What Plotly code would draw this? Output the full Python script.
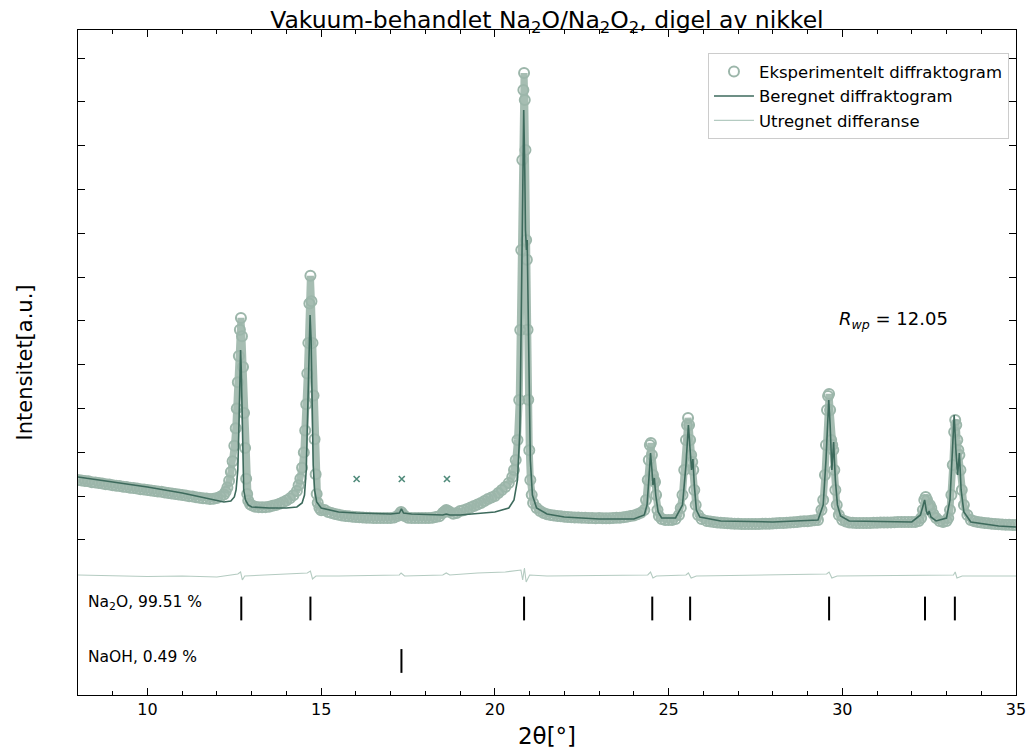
import plotly.graph_objects as go

# ---------------- data ----------------
exp_x = [8.0, 8.1, 8.2, 8.3, 8.4, 8.5, 8.6, 8.7, 8.8, 8.9, 9.0, 9.1, 9.2, 9.3, 9.4, 9.5, 9.6, 9.7, 9.8, 9.9,
         10.0, 10.1, 10.2, 10.3, 10.4, 10.5, 10.6, 10.7, 10.8, 10.9, 11.0, 11.1, 11.2, 11.3, 11.4, 11.5, 11.6,
         11.7, 11.8, 11.9, 12.0, 12.1, 12.2,
         12.25, 12.30, 12.35, 12.40, 12.45, 12.50, 12.54, 12.57, 12.60, 12.63, 12.66, 12.69, 12.72, 12.75,
         12.78, 12.81, 12.84, 12.87, 12.90, 12.95, 13.0,
         13.1, 13.2, 13.3, 13.4, 13.5, 13.6, 13.7, 13.8, 13.9, 14.0, 14.1, 14.2, 14.3,
         14.35, 14.40, 14.45, 14.50, 14.54, 14.57, 14.60, 14.63, 14.66, 14.69, 14.72, 14.75, 14.78, 14.81,
         14.84, 14.87, 14.90, 14.95, 15.0,
         15.1, 15.2, 15.3, 15.4, 15.5, 15.6, 15.7, 15.8, 15.9, 16.0, 16.1, 16.2, 16.3, 16.4, 16.5, 16.6, 16.7,
         16.8, 16.9, 17.0, 17.1, 17.2, 17.25, 17.3, 17.35, 17.4, 17.5, 17.6, 17.7, 17.8, 17.9, 18.0, 18.1,
         18.2, 18.3, 18.4, 18.5, 18.55, 18.6, 18.65, 18.7, 18.8, 18.9, 19.0, 19.1, 19.2, 19.3, 19.4, 19.5,
         19.6, 19.7, 19.8, 19.9, 20.0, 20.1, 20.2, 20.3, 20.4, 20.5, 20.55, 20.6, 20.65, 20.7, 20.73, 20.76,
         20.79, 20.82, 20.84, 20.86, 20.88, 20.90, 20.92, 20.94, 20.96, 20.99, 21.02, 21.06, 21.1, 21.2,
         21.3, 21.4, 21.5, 21.6, 21.7, 21.8, 21.9, 22.0, 22.1, 22.2, 22.3, 22.4, 22.5, 22.6, 22.7, 22.8,
         22.9, 23.0, 23.1, 23.2, 23.3, 23.4, 23.5, 23.6, 23.7, 23.8, 23.9, 24.0, 24.1, 24.2, 24.3, 24.35,
         24.40, 24.43, 24.46, 24.49, 24.52, 24.55, 24.58, 24.61, 24.64, 24.68, 24.72, 24.8, 24.9, 25.0,
         25.1, 25.2, 25.3, 25.35, 25.4, 25.45, 25.5, 25.53, 25.56, 25.59, 25.62, 25.65, 25.68, 25.71, 25.74,
         25.78, 25.85, 25.95, 26.1, 26.2, 26.3, 26.4, 26.5, 26.6, 26.7, 26.8, 26.9, 27.0, 27.1, 27.2, 27.3,
         27.4, 27.5, 27.6, 27.7, 27.8, 27.9, 28.0, 28.1, 28.2, 28.3, 28.4, 28.5, 28.6, 28.7, 28.8, 28.9,
         29.0, 29.1, 29.2, 29.3, 29.4, 29.45, 29.5, 29.53, 29.56, 29.59, 29.62, 29.65, 29.68, 29.71, 29.74,
         29.77, 29.8, 29.84, 29.9, 30.0, 30.1, 30.2, 30.3, 30.4, 30.5, 30.6, 30.7, 30.8, 30.9, 31.0, 31.1,
         31.2, 31.3, 31.4, 31.5, 31.6, 31.7, 31.8, 31.9, 32.0, 32.1, 32.2, 32.27, 32.32, 32.36, 32.40,
         32.44, 32.48, 32.52, 32.56, 32.62, 32.7, 32.8, 32.9, 33.0, 33.05, 33.1, 33.14, 33.18, 33.22, 33.25,
         33.28, 33.31, 33.34, 33.37, 33.4, 33.44, 33.5, 33.6, 33.7, 33.8, 33.9, 34.0, 34.1, 34.2, 34.3,
         34.4, 34.5, 34.6, 34.7, 34.8, 34.9, 35.0]
exp_y = [1370, 1360, 1345, 1340, 1320, 1310, 1300, 1290, 1270, 1265, 1250, 1240, 1230, 1215, 1210, 1195, 1185,
         1175, 1160, 1150, 1140, 1130, 1120, 1105, 1100, 1085, 1075, 1060, 1050, 1040, 1025, 1015, 1000, 990,
         975, 965, 955, 945, 935, 940, 960, 990, 1040,
         1100, 1200, 1350, 1550, 1800, 2150, 2550, 3000, 3600, 4200, 4800, 5070, 4650, 3950,
         2900, 2100, 1400, 1050, 900, 820, 790,
         760, 750, 745, 750, 760, 780, 800, 830, 860, 900, 950, 1020, 1120,
         1250, 1400, 1650, 2000, 2500, 3100, 3800, 4500, 5400, 6030, 5450, 4500, 3300, 2300,
         1500, 1050, 850, 730, 680,
         685, 640, 615, 594, 575, 560, 550, 540, 532, 525, 520, 515, 510, 505, 502, 500, 500,
         502, 500, 502, 515, 548, 590, 640, 590, 548, 510, 502, 500, 500, 502, 502, 502,
         505, 525, 540, 616, 650, 685, 660, 640, 600, 616, 662, 680, 708, 740, 776, 810,
         845, 890, 936, 970, 1005, 1073, 1142, 1210, 1301, 1438, 1598, 1826, 2283, 3196, 4794, 6620,
         8675, 10274, 10660, 10046, 8904, 6850, 6400, 4800, 3200, 2050, 1370, 1030, 845, 730,
         660, 616, 590, 571, 560, 548, 540, 530, 525, 520, 515, 512, 508, 505, 502, 500,
         498, 500, 498, 495, 497, 500, 505, 510, 520, 530, 545, 560, 590, 620, 685, 913,
         1370, 1826, 2170, 2214, 1940, 1484, 1370, 1324, 1027, 685, 548, 480, 457, 457,
         457, 480, 571, 730, 1027, 1598, 2283, 2625, 2785, 2625, 2283, 1940, 1780, 1598, 1140,
         800, 571, 480, 434, 420, 411, 400, 392, 388, 380, 375, 370, 368, 365, 365, 365,
         365, 365, 365, 368, 370, 372, 375, 380, 385, 390, 395, 400, 405, 410, 420, 425,
         430, 440, 450, 457, 685, 913, 1484, 2170, 2968, 3287, 3333, 2968, 2283, 2170, 2055,
         1598, 1142, 800, 571, 457, 420, 400, 392, 388, 385, 385, 388, 390, 392, 395, 398,
         400, 400, 402, 405, 408, 410, 411, 411, 411, 411, 434, 502, 685, 913, 982, 913,
         776, 800, 730, 594, 502, 434, 411, 434, 502, 685, 1027, 1712, 2466, 2740, 2625,
         2283, 2055, 1940, 1598, 1142, 800, 571, 457, 430, 411, 400, 388, 380, 370, 365,
         360, 355, 350, 345, 342, 342, 342]

calc_x = [8.0, 9.0, 10.0, 11.0, 11.8, 12.2, 12.4, 12.5, 12.55, 12.6, 12.63, 12.66, 12.68, 12.70, 12.72,
          12.74, 12.77, 12.82, 12.9, 13.0, 13.5, 14.0, 14.3, 14.45, 14.52, 14.57, 14.61, 14.65, 14.68,
          14.71, 14.74, 14.77, 14.81, 14.87, 15.0, 15.5, 16.0, 17.0, 17.25, 17.31, 17.37, 17.6, 18.5,
          18.6, 18.7, 19.0, 20.0, 20.4, 20.55, 20.65, 20.72, 20.76, 20.80, 20.83, 20.86, 20.88, 20.91,
          20.93, 20.95, 20.98, 21.02, 21.08, 21.2, 21.5, 22.0, 23.0, 24.0, 24.3, 24.38, 24.44, 24.48,
          24.52, 24.55, 24.59, 24.63, 24.7, 24.8, 25.2, 25.4, 25.5, 25.57, 25.62, 25.66, 25.7, 25.74,
          25.8, 25.9, 26.5, 28.0, 29.3, 29.45, 29.53, 29.58, 29.61, 29.65, 29.7, 29.75, 29.8, 29.86,
          29.95, 30.2, 32.0, 32.25, 32.33, 32.37, 32.42, 32.46, 32.5, 32.55, 32.7, 33.0, 33.1, 33.17,
          33.22, 33.27, 33.32, 33.37, 33.42, 33.5, 33.7, 34.5, 35.0]
calc_y = [1438, 1324, 1210, 1073, 936, 868, 890, 982, 1142, 1598, 2511, 3653, 4338, 3881, 2740,
          1712, 1142, 913, 800, 753, 730, 730, 753, 845, 1027, 1598, 2740, 4338, 5137,
          4566, 2968, 1712, 1142, 868, 730, 639, 616, 594, 616, 708, 616, 594, 571,
          594, 571, 571, 639, 730, 913, 1370, 2511, 4794, 8219, 9817, 8447, 7077, 6620,
          6849, 5707, 3425, 1826, 1027, 730, 594, 525, 480, 480, 571, 800, 1484, 1986,
          1598, 1256, 1415, 1027, 639, 502, 502, 800, 1712, 2625, 2055, 1598, 1849, 1256,
          685, 525, 434, 411, 457, 800, 1826, 2968, 3196, 2625, 1598, 2237, 1370, 800,
          548, 434, 411, 571, 845, 913, 662, 571, 662, 525, 434, 502, 913, 2055,
          2854, 2055, 1484, 1986, 1142, 639, 411, 320, 297]

diff_x = [8.0, 9.0, 10.0, 11.0, 12.0, 12.6, 12.68, 12.73, 12.8, 14.6, 14.69, 14.75, 14.85, 15.5, 17.25,
          17.3, 17.4, 18.5, 18.6, 18.7, 19.5, 20.3, 20.6, 20.75, 20.8, 20.85, 20.9, 21.0, 21.5, 24.4,
          24.48, 24.55, 24.65, 25.5, 25.57, 25.65, 25.8, 29.55, 29.62, 29.7, 29.85, 32.4, 33.2, 33.25,
          33.3, 33.45, 35.0]
diff_y = [-799, -822, -833, -822, -845, -776, -731, -913, -822, -753, -708, -890, -822, -822, -799,
          -753, -822, -799, -753, -799, -753, -731, -708, -685, -913, -639, -959, -799, -822, -799,
          -731, -868, -822, -799, -753, -868, -822, -776, -731, -868, -822, -799, -799, -731,
          -868, -822, -822]

na2o_pos = [12.70, 14.69, 20.84, 24.53, 25.62, 29.62, 32.38, 33.24]
naoh_pos = [17.31]
na2o_level = -1564
naoh_level = -2762
na2o_label = "Na<sub>2</sub>O, 99.51 %"
naoh_label = "NaOH, 0.49 %"
unknown_x = [16.02, 17.32, 18.62]
unknown_y = [1393, 1393, 1393]
rwp_text = "<i>R</i><sub><i>wp</i></sub> = 12.05"
y_ticks = list(range(0, 11001, 1000))
x_ticks = [10, 15, 20, 25, 30, 35]

EXP_C = "#9cb6aa"
CALC_C = "#3d6a5c"
DIFF_C = "#b4cbc1"
FONT = "DejaVu Sans"

fig = go.Figure()
# dense band formed by overlapping points
fig.add_trace(go.Scatter(x=exp_x, y=exp_y, mode="lines", showlegend=False, hoverinfo="skip",
                         line=dict(color="rgba(156,182,170,0.9)", width=7)))
fig.add_trace(go.Scatter(x=exp_x, y=exp_y, mode="markers", name="Eksperimentelt diffraktogram",
                         marker=dict(symbol="circle-open", size=10, color=EXP_C, line=dict(width=2, color=EXP_C))))
fig.add_trace(go.Scatter(x=calc_x, y=calc_y, mode="lines", name="Beregnet diffraktogram",
                         line=dict(color=CALC_C, width=1.6)))
fig.add_trace(go.Scatter(x=diff_x, y=diff_y, mode="lines", name="Utregnet differanse",
                         line=dict(color=DIFF_C, width=1.1)))
fig.add_trace(go.Scatter(x=na2o_pos, y=[na2o_level] * len(na2o_pos), mode="markers", showlegend=False,
                         marker=dict(symbol="line-ns-open", size=17, color="black",
                                     line=dict(width=2, color="black"))))
fig.add_trace(go.Scatter(x=naoh_pos, y=[naoh_level] * len(naoh_pos), mode="markers", showlegend=False,
                         marker=dict(symbol="line-ns-open", size=17, color="black",
                                     line=dict(width=2, color="black"))))
fig.add_trace(go.Scatter(x=unknown_x, y=unknown_y, mode="markers", showlegend=False,
                         marker=dict(symbol="x-thin-open", size=6, color="#4f8a7a",
                                     line=dict(width=1.6, color="#4f8a7a"))))

fig.add_annotation(x=8.24, y=na2o_level + 130, text=na2o_label, showarrow=False, xanchor="left",
                   yanchor="middle", font=dict(size=15.5, color="black", family=FONT))
fig.add_annotation(x=8.24, y=naoh_level + 100, text=naoh_label, showarrow=False, xanchor="left",
                   yanchor="middle", font=dict(size=15.5, color="black", family=FONT))
fig.add_annotation(x=31.46, y=5023, text=rwp_text, showarrow=False, xanchor="center", yanchor="middle",
                   font=dict(size=18, color="black", family=FONT))

fig.update_layout(
    width=1028, height=749,
    margin=dict(l=78, r=12, t=30, b=54, autoexpand=False),
    paper_bgcolor="white", plot_bgcolor="white",
    font=dict(family=FONT, color="black"),
    title=dict(text="Vakuum-behandlet Na<sub>2</sub>O/Na<sub>2</sub>O<sub>2</sub>, digel av nikkel",
               x=0.532, xanchor="center", y=0.974, yanchor="middle", font=dict(size=23.5, family=FONT)),
    legend=dict(x=0.9925, y=0.965, xanchor="right", yanchor="top", bgcolor="rgba(255,255,255,0.8)",
                bordercolor="#cccccc", borderwidth=1, font=dict(size=16.5, family=FONT),
                itemwidth=40, tracegroupgap=0),
    showlegend=True,
)
fig.update_xaxes(range=[8, 35], tickvals=x_ticks, ticks="inside", ticklen=7, tickwidth=1, tickcolor="black",
                 mirror="ticks", showline=True, linecolor="black", linewidth=1.2, showgrid=False, zeroline=False,
                 tickfont=dict(size=16, family=FONT), automargin=False,
                 minor=dict(dtick=1, ticks="inside", ticklen=4, tickcolor="black", tickwidth=1),
                 title=dict(text="2θ[°]", font=dict(size=23, family=FONT), standoff=10))
fig.update_yaxes(range=[-3539, 11643], tickvals=y_ticks, showticklabels=False, ticks="inside", ticklen=7,
                 tickwidth=1, tickcolor="black", mirror="ticks", showline=True, linecolor="black",
                 linewidth=1.2, showgrid=False, zeroline=False, automargin=False,
                 title=dict(text="Intensitet[a.u.]", font=dict(size=21, family=FONT), standoff=38))

fig.write_html("out.html")
